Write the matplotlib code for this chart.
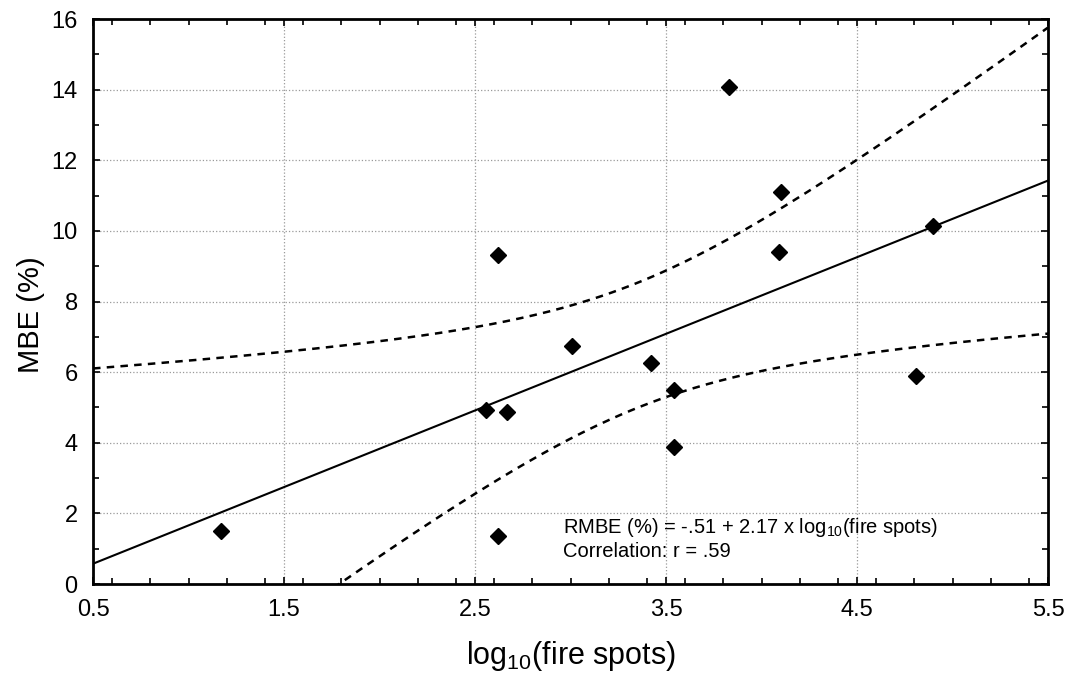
import numpy as np
import matplotlib
matplotlib.use("Agg")
import matplotlib.pyplot as plt
from matplotlib.ticker import MultipleLocator
from matplotlib import font_manager

# pick a narrow helvetica-like font if we have one
names = set(f.name for f in font_manager.fontManager.ttflist)
font = "Liberation Sans Narrow" if "Liberation Sans Narrow" in names else "Liberation Sans"
plt.rcParams["font.family"] = [font, "DejaVu Sans"]
plt.rcParams["mathtext.fontset"] = "custom"
plt.rcParams["mathtext.rm"] = font
plt.rcParams["mathtext.default"] = "regular"

# log10(fire spots) and MBE (%)
logSpots = [1.17, 2.62, 2.56, 2.67, 2.62, 3.01, 3.42, 3.54, 3.54, 3.83, 4.10, 4.09, 4.90, 4.81]
mbe = [1.50, 1.36, 4.93, 4.87, 9.32, 6.74, 6.26, 5.49, 3.88, 14.07, 11.10, 9.40, 10.14, 5.89]

# regression from the printed equation
a = -0.51
b = 2.17

x = np.array(logSpots)
y = np.array(mbe)
n = len(x)

# 95% confidence band of the fitted mean
xx = np.linspace(0.5, 5.5, 200)
yfit = a + b * xx
res = y - (a + b * x)
s = np.sqrt(np.sum(res ** 2) / (n - 2))
sxx = np.sum((x - x.mean()) ** 2)
t = 2.179  # t(0.975, 12)
half = t * s * np.sqrt(1.0 / n + (xx - x.mean()) ** 2 / sxx)

fig = plt.figure(figsize=(10.68, 6.74), dpi=100)
ax = fig.add_axes([0.0871, 0.1335, 0.8942, 0.8383])

ax.plot(xx, yfit, color="black", lw=1.5)
ax.plot(xx, yfit + half, color="black", lw=1.8, ls=(0, (3, 2.5)))
ax.plot(xx, yfit - half, color="black", lw=1.8, ls=(0, (3, 2.5)))
ax.plot(x, y, "D", color="black", ms=8.5, zorder=5)

ax.text(2.96, 1.6, "RMBE (%) = -.51 + 2.17 x log$_{10}$(fire spots)", fontsize=14.5, va="center")
ax.text(2.96, 0.93, "Correlation: r = .59", fontsize=14.5, va="center")

ax.set_xlim(0.5, 5.5)
ax.set_ylim(0, 16)
ax.xaxis.set_major_locator(MultipleLocator(1.0))
ax.xaxis.set_minor_locator(MultipleLocator(0.2))
ax.yaxis.set_major_locator(MultipleLocator(2))
ax.yaxis.set_minor_locator(MultipleLocator(1))
ax.set_xticks(np.arange(0.5, 5.6, 1.0))
ax.set_xticklabels(["0.5", "1.5", "2.5", "3.5", "4.5", "5.5"])

ax.tick_params(which="both", direction="in", top=True, right=True, labelsize=17, width=1.2)
ax.tick_params(which="major", length=5, pad=11)
ax.tick_params(which="minor", length=4)
for sp in ax.spines.values():
    sp.set_linewidth(2)

ax.grid(True, which="major", color="#999999", ls=":", lw=0.9)
ax.set_axisbelow(True)

ax.set_xlabel("log$_{10}$(fire spots)", fontsize=22)
ax.set_ylabel("MBE (%)", fontsize=21)
ax.xaxis.set_label_coords(0.5, -0.097)
ax.yaxis.set_label_coords(-0.05, 0.476)

fig.savefig("out.png", dpi=100)
